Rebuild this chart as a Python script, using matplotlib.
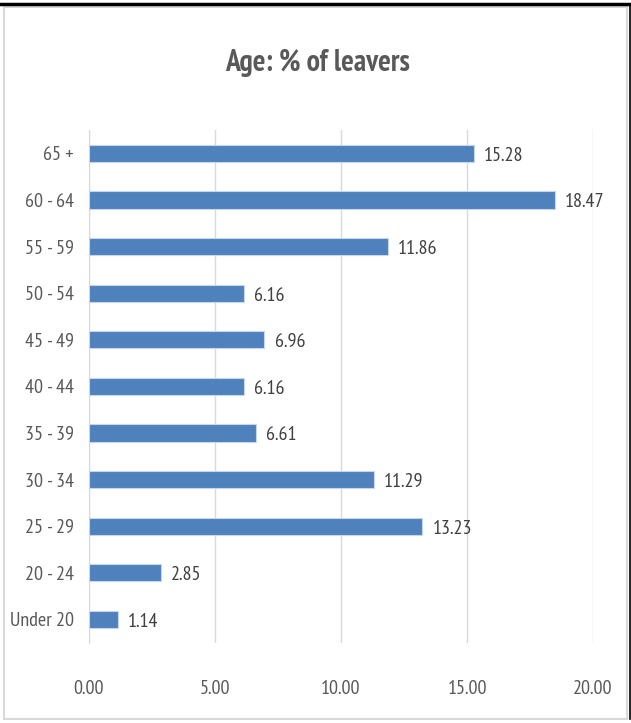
import matplotlib
matplotlib.use('Agg')
import matplotlib.pyplot as plt
from matplotlib.patches import Rectangle
from matplotlib.lines import Line2D

# age bands, bottom to top
ages = ['Under 20', '20 - 24', '25 - 29', '30 - 34', '35 - 39', '40 - 44',
        '45 - 49', '50 - 54', '55 - 59', '60 - 64', '65 +']
leavers_pct = [1.14, 2.85, 13.23, 11.29, 6.61, 6.16, 6.96, 6.16, 11.86, 18.47, 15.28]
x_ticks = [0, 5, 10, 15, 20]

plt.rcParams['font.family'] = ['PT Sans Narrow', 'DejaVu Sans']
text_col = '#595959'

fig = plt.figure(figsize=(6.31, 7.23), dpi=100)
ax = fig.add_axes([0.141, 0.111, 0.799, 0.709])

pos = range(len(ages))
ax.barh(pos, leavers_pct, height=0.37, color='#4f81bd',
        edgecolor='#c6d7ec', linewidth=0.8, zorder=3)
for y, v in zip(pos, leavers_pct):
    ax.text(v + 0.4, y - 0.05, '%.2f' % v, va='center', ha='left',
            fontsize=14.5, color='#404040')

ax.set_ylim(-0.5, len(ages) - 0.5)
ax.set_xlim(0, 20)
ax.set_yticks(list(pos))
ax.set_yticklabels(ages, fontsize=14.5, color=text_col)
ax.set_xticks(x_ticks)
ax.set_xticklabels(['%.2f' % t for t in x_ticks], fontsize=14.5, color=text_col)
ax.tick_params(axis='both', length=0)
ax.tick_params(axis='y', pad=11)
ax.tick_params(axis='x', pad=27)
ax.grid(axis='x', color='#d9d9d9', linewidth=1, zorder=0)
for s in ['top', 'right', 'bottom']:
    ax.spines[s].set_visible(False)
ax.spines['left'].set_color('#d9d9d9')

fig.text(0.503, 0.913, 'Age: % of leavers', ha='center', va='center',
         fontsize=21.5, fontweight='bold', color=text_col)

# chart frame
fig.patches.append(Rectangle((4 / 631, 4 / 723), 623 / 631, 712 / 723,
                             transform=fig.transFigure, fill=False,
                             edgecolor='#d9d9d9', linewidth=1.5))
fig.lines.append(Line2D([0, 1], [1 - 4 / 723, 1 - 4 / 723],
                        transform=fig.transFigure, color='black', linewidth=2.5))
fig.lines.append(Line2D([629.5 / 631, 629.5 / 631], [4 / 723, 1 - 4 / 723],
                        transform=fig.transFigure, color='black', linewidth=1.2))

fig.savefig('out.png', dpi=100)
